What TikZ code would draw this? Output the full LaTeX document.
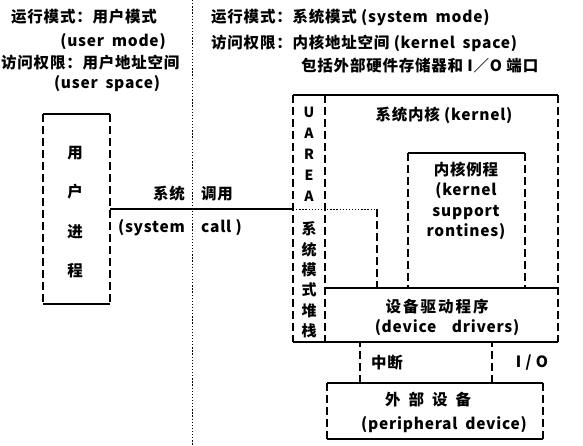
\documentclass[tikz,border=0pt]{standalone}
\usepackage{fontspec}
\setmainfont[LetterSpace=5]{Noto Sans CJK SC}
\usepackage{tikz}
\usetikzlibrary{fit,positioning}
\tikzset{
  rim/.style={line width=1.1pt},
  dashside/.style={line width=1.1pt, dash pattern=on 8pt off 4pt},
  divide/.style={line width=1pt, dash pattern=on 1.3pt off 1.8pt},
  frame/.style={inner sep=0pt, outer sep=0pt},
  lbl/.style={inner sep=1pt, font=\fontsize{15.5}{17}\selectfont\bfseries}
}
% box with solid top and bottom, dashed sides
\newcommand{\sidebox}[1]{%
  \draw [rim] (#1.north west) -- (#1.north east);
  \draw [rim] (#1.south west) -- (#1.south east);
  \draw [dashside] (#1.north west) -- (#1.south west);
  \draw [dashside] (#1.north east) -- (#1.south east);}
\begin{document}
\begin{tikzpicture}[x=1pt, y=-1pt]
    \useasboundingbox (0,0) rectangle (583,445);
    % user / system divider
    \draw [divide] (192,0) -- (192,445);

    % mode texts
    \node [lbl, anchor=west] (umode) at (10,17) {运行模式：用户模式};
    \node [lbl] (umodeE) at (113,42) {(user\enspace mode)};
    \node [lbl, anchor=west] (uspace) at (0,63) {访问权限：用户地址空间};
    \node [lbl] (uspaceE) at (107,84) {(user\enspace space)};
    \node [lbl, anchor=west] (smode) at (210,17) {运行模式：系统模式 (system\enspace mode)};
    \node [lbl, anchor=west] (sspace) at (210,43) {访问权限：内核地址空间 (kernel\enspace space)};
    \node [lbl, anchor=west] (sport) at (300,66) {包括外部硬件存储器和 I／O 端口};

    % boxes
    \node [frame, fit={(43,114) (110,304)}] (user) {};
    \node [frame, fit={(293,95) (558,342)}] (kern) {};
    \node [frame, fit={(293,95) (325,342)}] (uarea) {};
    \node [frame, fit={(325,288) (558,342)}] (drivers) {};
    \node [frame, fit={(408,153) (525,288)}] (routines) {};
    \node [frame, fit={(325,209) (377,288)}] (stack) {};
    \node [frame, fit={(327,383) (543,439)}] (periph) {};

    \sidebox{user}
    \sidebox{kern}
    \sidebox{periph}
    \draw [dashside] (uarea.north east) -- (uarea.south east);
    \draw [rim] (drivers.north west) -- (drivers.north east);
    \draw [rim] (routines.north west) -- (routines.north east);
    \draw [dashside] (routines.north west) -- (routines.south west);
    \draw [dashside] (routines.north east) -- (routines.south east);
    \draw [divide] (kern.west |- stack.north) -- (stack.north east);
    \draw [dashside] (stack.north east) -- (stack.south east);

    % box texts
    \node [lbl, align=center, font=\fontsize{15.5}{39.5}\selectfont\bfseries] (uproc) at (75,212) {用\\户\\进\\程};
    \node [lbl, align=center, font=\fontsize{14}{21}\selectfont\bfseries] (uletters) at (309,154) {U\\A\\R\\E\\A};
    \node [lbl, align=center, font=\fontsize{15}{20.4}\selectfont\bfseries] (ustack) at (309,280) {系\\统\\模\\式\\堆\\栈};
    \node [lbl] (kname) at (444,115) {系统内核 (kernel)};
    \node [lbl, align=center, font=\fontsize{15.5}{20.5}\selectfont\bfseries] (rname) at (466,201) {内核例程\\(kernel\\support\\rontines)};
    \node [lbl] (dname) at (437,307) {设\hspace{2pt}备\hspace{2pt}驱\hspace{2pt}动\hspace{2pt}程\hspace{2pt}序};
    \node [lbl] (dnameE) at (447,328) {(device\quad drivers)};
    \node [lbl] (pname) at (428,400) {外\hspace{8pt}部\hspace{8pt}设\hspace{8pt}备};
    \node [lbl] (pnameE) at (444,425) {(peripheral\enspace device)};

    % system call
    \draw [rim] (user.east) -- (kern.west |- user.east);
    \node [lbl, anchor=east] (callA) at (186,194) {系统};
    \node [lbl, anchor=west] (callB) at (200,194) {调用};
    \node [lbl, anchor=east] (callC) at (186,228) {(system};
    \node [lbl, anchor=west] (callD) at (200,228) {call )};

    % drivers to peripheral
    \draw [dashside] ([xshift=-75pt]periph.north) -- ([xshift=-75pt]periph.north |- drivers.south);
    \draw [dashside] ([xshift=57pt]periph.north) -- ([xshift=57pt]periph.north |- drivers.south);
    \node [lbl] (intr) at (387,363) {中断};
    \node [lbl] (io) at (532,363) {I / O};
\end{tikzpicture}
\end{document}
